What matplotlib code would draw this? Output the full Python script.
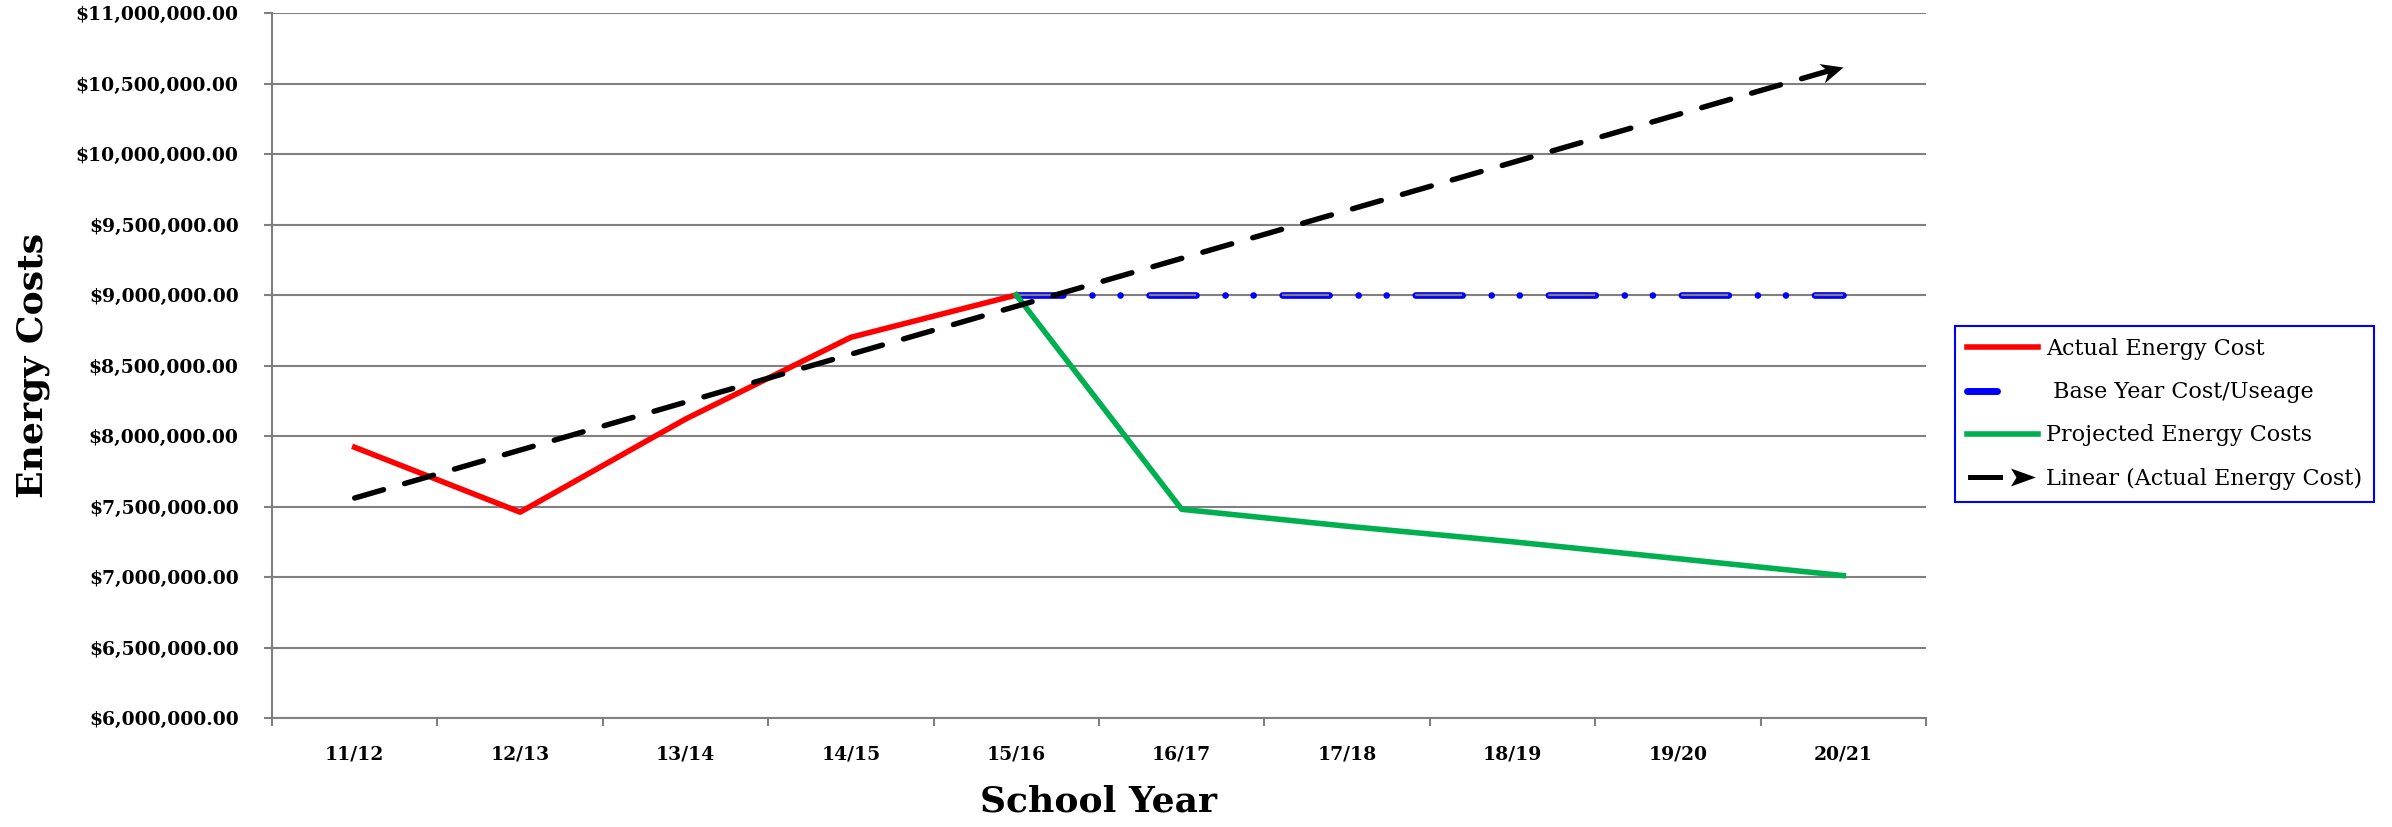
import numpy as np
import matplotlib
matplotlib.use("Agg")
import matplotlib.pyplot as plt
from matplotlib.lines import Line2D
from matplotlib.markers import MarkerStyle
from matplotlib.path import Path
from matplotlib.transforms import Affine2D
from matplotlib.legend_handler import HandlerTuple
from matplotlib.ticker import FuncFormatter, FixedLocator

plt.rcParams['font.family'] = ['DejaVu Serif']
plt.rcParams['lines.scale_dashes'] = False

years = ['11/12', '12/13', '13/14', '14/15', '15/16',
         '16/17', '17/18', '18/19', '19/20', '20/21']
actual = [7920000, 7460000, 8120000, 8700000, 9000000]
base_year = [9000000, 9000000, 9000000, 9000000, 9000000, 9000000]
projected = [9000000, 7480000, 7360000, 7250000, 7130000, 7010000]

x_all = np.arange(len(years))
x_actual = x_all[:len(actual)]
x_future = x_all[len(actual) - 1:]

gray = '#808080'

fig = plt.figure(figsize=(23.92, 8.27), dpi=100)
ax = fig.add_axes([272 / 2392, 1 - 718 / 827, (1926 - 272) / 2392, (718 - 13) / 827])

ax.set_xlim(-0.5, len(years) - 0.5)
ax.set_ylim(6000000, 11000000)
ax.set_yticks(np.arange(6000000, 11000001, 500000))
ax.yaxis.set_major_formatter(FuncFormatter(lambda v, p: '${:,.2f}'.format(v)))
ax.grid(axis='y', color=gray, lw=1.5, zorder=0)
ax.set_axisbelow(True)

# category ticks between the years, labels at the middle
ax.xaxis.set_major_locator(FixedLocator(np.arange(-0.5, len(years), 1.0)))
ax.xaxis.set_minor_locator(FixedLocator(x_all))
ax.set_xticklabels([''] * (len(years) + 1))
ax.set_xticklabels(years, minor=True)
ax.tick_params(axis='x', which='major', length=6, width=1.5, color=gray, direction='out')
ax.tick_params(axis='x', which='minor', length=0, pad=20, labelsize=13.5)
ax.tick_params(axis='y', length=6, width=1.5, color=gray, pad=18, labelsize=13.5)
for lab in ax.get_xticklabels(minor=True) + ax.get_yticklabels():
    lab.set_fontweight('bold')

for s in ['top', 'right']:
    ax.spines[s].set_visible(False)
for s in ['left', 'bottom']:
    ax.spines[s].set_color(gray)
    ax.spines[s].set_linewidth(1.5)

# base year: hollow blue dash-dot-dot
blue_dash = (33.8, 20.9, 0.01, 20.2, 0.01, 20.9)
ax.plot(x_future, base_year, color='#0000ff', lw=4.8, dashes=blue_dash,
        dash_capstyle='round', zorder=3)
ax.plot(x_future, base_year, color=gray, lw=1.6, dashes=(33.8, 62.0),
        dash_capstyle='butt', zorder=3.1)

ax.plot(x_actual, actual, color='#ff0000', lw=4, zorder=4)
ax.plot(x_future, projected, color='#00b050', lw=4, zorder=4)

# linear trend of actual energy cost, extended to last year
coef = np.polyfit(x_actual, actual, 1)
trend_x = np.array([x_all[0], x_all[-1]])
trend_y = np.polyval(coef, trend_x)
ax.plot(trend_x, trend_y, color='black', lw=3.9, dashes=(21.6, 15.8),
        dash_capstyle='round', zorder=5)

p0 = ax.transData.transform((trend_x[0], trend_y[0]))
p1 = ax.transData.transform((trend_x[1], trend_y[1]))
angle = np.degrees(np.arctan2(p1[1] - p0[1], p1[0] - p0[0]))
head = Path([(0, 0), (-1, 0.45), (-0.7, 0), (-1, -0.45), (0, 0)],
            [Path.MOVETO, Path.LINETO, Path.LINETO, Path.LINETO, Path.CLOSEPOLY])
ax.plot([trend_x[1]], [trend_y[1]], linestyle='none', color='black', mew=0,
        marker=MarkerStyle(head, transform=Affine2D().rotate_deg(angle)),
        markersize=32, zorder=6)

# legend
h_actual = Line2D([], [], color='#ff0000', lw=4)
h_base = (Line2D([], [], color='#0000ff', lw=5, dashes=(36, 100), dash_capstyle='round'),
          Line2D([], [], color='white', lw=2, dashes=(36, 100), dash_capstyle='butt'))
h_proj = Line2D([], [], color='#00b050', lw=4)
legend_arrow = Path([(-35.5, 2.5), (-0.5, 2.5), (-0.5, -2.5), (-35.5, -2.5), (-35.5, 2.5),
                     (32.5, 0), (7.5, 9), (13, 0), (7.5, -9), (32.5, 0)],
                    [Path.MOVETO, Path.LINETO, Path.LINETO, Path.LINETO, Path.CLOSEPOLY,
                     Path.MOVETO, Path.LINETO, Path.LINETO, Path.LINETO, Path.CLOSEPOLY])
h_lin = Line2D([], [], linestyle='none', color='black', marker=legend_arrow,
               markersize=51, mew=0)

leg = ax.legend([h_actual, h_base, h_proj, h_lin],
                ['Actual Energy Cost', ' Base Year Cost/Useage', 'Projected Energy Costs',
                 'Linear (Actual Energy Cost)'],
                handler_map={tuple: HandlerTuple(ndivide=None)},
                loc='upper left', bbox_to_anchor=(1955 / 2392, 1 - 326 / 827),
                bbox_transform=fig.transFigure, borderaxespad=0, fontsize=16,
                frameon=True, fancybox=False, edgecolor='#0000ff', framealpha=1,
                handlelength=3.2, handletextpad=0.35, labelspacing=0.95,
                borderpad=0.55, numpoints=1)
leg.get_frame().set_linewidth(1.5)

fig.text(33 / 2392, 1 - 365 / 827, 'Energy Costs', rotation=90, ha='center',
         va='center', fontsize=26, fontweight='bold')
fig.text(1099 / 2392, 1 - 802 / 827, 'School Year', ha='center', va='center',
         fontsize=26, fontweight='bold')

fig.savefig('out.png', dpi=100, facecolor='white')
